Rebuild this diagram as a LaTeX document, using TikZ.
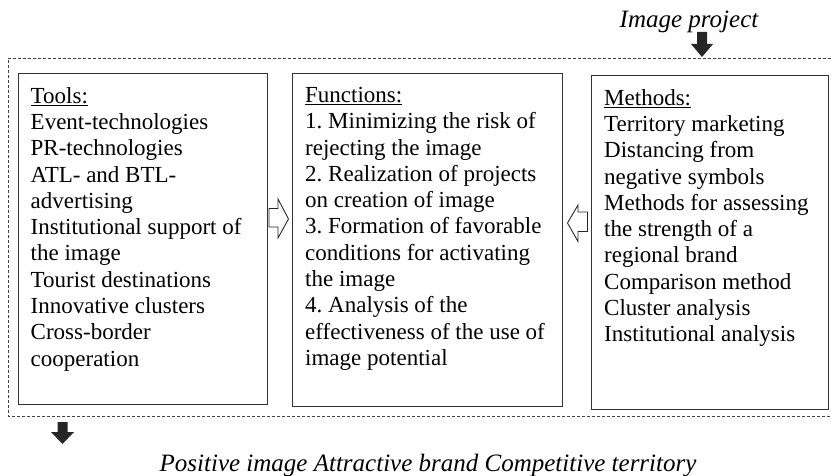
\documentclass[tikz,border=0pt]{standalone}
\usepackage{fontspec}
\setmainfont{Liberation Serif}
\usetikzlibrary{positioning}
\frenchspacing

\begin{document}
\begin{tikzpicture}[x=1pt,y=-1pt]
        \tikzstyle{every node}=[align=left, inner sep=0pt, font=\fontsize{23}{26.3}\selectfont]
        \tikzstyle{box}=[draw=black!80, line width=1.1pt, anchor=north west]
        \tikzset{boxtext/.style={below right=14pt and 13pt of #1}}
        \tikzstyle{caption}=[anchor=base, font=\fontsize{25}{28}\selectfont\itshape]
        \tikzstyle{hollow}=[draw=black!85, line width=0.9pt, fill=white]
        \useasboundingbox (0,0) rectangle (831,476);

        % dashed frame, open to the right
        \draw[black!75, line width=0.8pt, dash pattern=on 3pt off 2pt]
            (831,58) -- (8,58) -- (8,416) -- (831,416);

        \node[box, minimum width=249pt, minimum height=331pt] at (17.5,73) (tools) {};
        \node[box, minimum width=270pt, minimum height=333pt] at (292,73) (functions) {};
        \node[box, minimum width=237pt, minimum height=334pt] at (591,75) (methods) {};

        \node[boxtext=tools.north west] (toolstext)
            {\underline{Tools:}\\Event-technologies\\PR-technologies\\ATL- and BTL-\\advertising\\
             Institutional support of\\the image\\Tourist destinations\\Innovative clusters\\
             Cross-border\\cooperation};
        \node[boxtext=functions.north west] (functionstext)
            {\underline{Functions:}\\1. Minimizing the risk of\\rejecting the image\\
             2. Realization of projects\\on creation of image\\3. Formation of favorable\\
             conditions for activating\\the image\\4. Analysis of the\\
             effectiveness of the use of\\image potential};
        \node[boxtext=methods.north west] (methodstext)
            {\underline{Methods:}\\Territory marketing\\Distancing from\\negative symbols\\
             Methods for assessing\\the strength of a\\regional brand\\Comparison method\\
             Cluster analysis\\Institutional analysis};

        \node[caption] at (689,28) (project) {Image project};
        \node[caption] at (428,471) (result)
            {Positive image Attractive brand Competitive territory};

        % hollow arrows between the boxes
        \draw[hollow] (269,208.5) -- (278,208.5) -- (278,199) -- (288.5,219)
            -- (278,238) -- (278,227) -- (269,227) -- cycle;
        \draw[hollow] (587.5,212) -- (578,212) -- (578,205) -- (567.5,223)
            -- (578,241.5) -- (578,231.5) -- (587.5,231.5) -- cycle;

        % filled arrows in and out
        \fill[black!85] (697,32) -- (707,32) -- (707,44) -- (713,44) -- (702,57)
            -- (691,44) -- (697,44) -- cycle;
        \fill[black!85] (57.5,422) -- (67.5,422) -- (67.5,432) -- (74,432) -- (62.5,444)
            -- (51,432) -- (57.5,432) -- cycle;
\end{tikzpicture}
\end{document}
